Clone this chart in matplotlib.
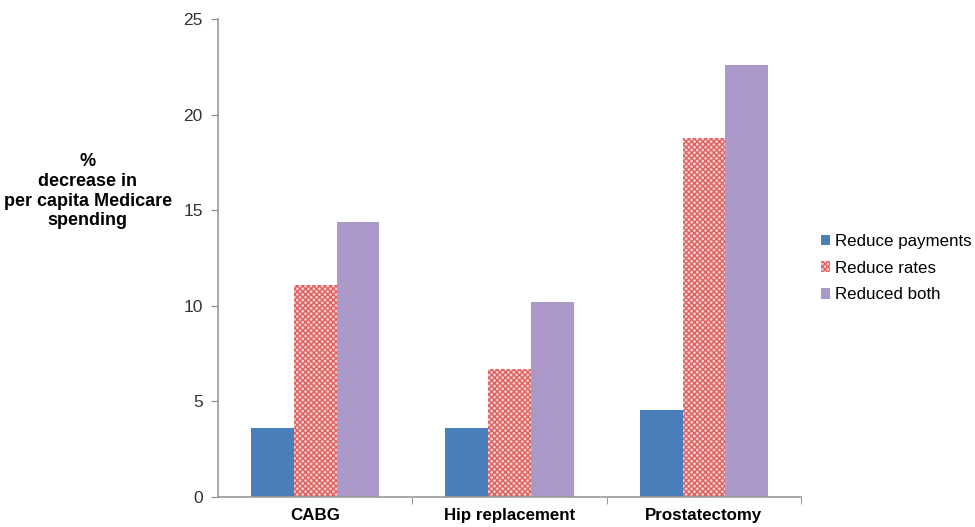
import numpy as np
import matplotlib.pyplot as plt

categories = ['CABG', 'Hip replacement', 'Prostatectomy']
reduce_payments = [3.6, 3.6, 4.55]
reduce_rates = [11.1, 6.7, 18.8]
reduced_both = [14.4, 10.2, 22.6]
series_names = ['Reduce payments', 'Reduce rates', 'Reduced both']

plt.rcParams['font.family'] = ['Liberation Sans', 'DejaVu Sans']
plt.rcParams['hatch.linewidth'] = 1.0

fig = plt.figure(figsize=(9.75, 5.27), dpi=100)
ax = fig.add_axes([0.2236, 0.0569, 0.598, 0.907])

x = np.arange(len(categories))
w = 0.22

ax.bar(x - w, reduce_payments, w, color='#4a7ebb', label=series_names[0])
ax.bar(x, reduce_rates, w, facecolor='#f6d0d0', edgecolor='#e06060',
       hatch='xxxxxx', linewidth=0, label=series_names[1])
ax.bar(x + w, reduced_both, w, color='#ab9ac9', label=series_names[2])

ax.set_xlim(-0.5, 2.5)
ax.set_ylim(0, 25)
ax.set_yticks([0, 5, 10, 15, 20, 25])
ax.set_xticks(x)
ax.set_xticklabels(categories, fontsize=12.2, fontweight='bold')
ax.set_xticks([0.5, 1.5, 2.5], minor=True)
ax.tick_params(axis='x', which='major', length=0, pad=8)
ax.tick_params(axis='x', which='minor', length=5, color='#888888', direction='out')
ax.tick_params(axis='y', length=5, color='#888888', labelsize=12.5, labelcolor='#333333', pad=6)

for s in ['top', 'right']:
    ax.spines[s].set_visible(False)
for s in ['left', 'bottom']:
    ax.spines[s].set_color('#999999')
    ax.spines[s].set_linewidth(1.2)

fig.text(0.09, 0.637, '%\ndecrease in\nper capita Medicare\nspending', ha='center', va='center',
         fontsize=13, fontweight='bold', linespacing=1.2)

ax.legend(loc='center left', bbox_to_anchor=(1.005, 0.479), frameon=False, fontsize=12.2,
          handlelength=0.55, handleheight=0.55, handletextpad=0.3, labelspacing=0.7,
          borderaxespad=0.6)

fig.savefig('out.png', dpi=100)
